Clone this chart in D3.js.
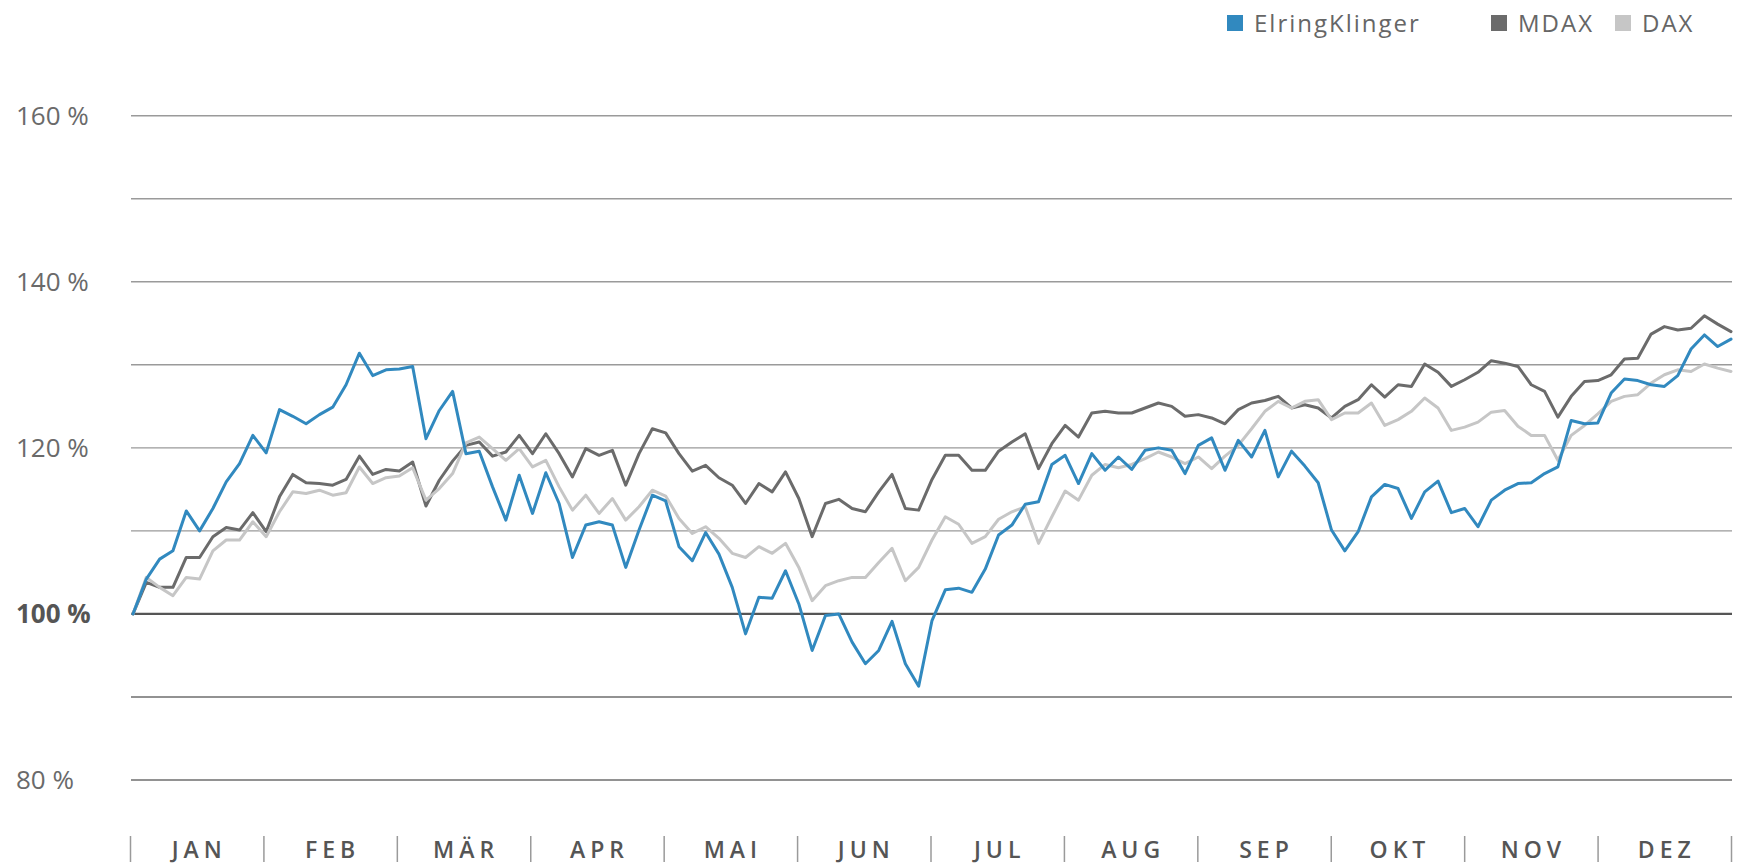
<!DOCTYPE html>
<html lang="de">
<head>
<meta charset="utf-8">
<title>ElringKlinger vs. MDAX vs. DAX</title>
<script src="https://cdn.jsdelivr.net/npm/d3@7"></script>
<style>
  html, body { margin: 0; padding: 0; background: #fff; }
  svg { display: block; font-family: "Open Sans", "Noto Sans", sans-serif; }
  .ylab { font-size: 26px; fill: #6a6a6a; }
  .ylab.base { font-weight: 700; fill: #555; }
  .month { font-size: 23px; font-weight: 600; fill: #555; letter-spacing: 5px; }
  .legend text { font-size: 24px; fill: #666; letter-spacing: 2px; }
  .series { fill: none; stroke-width: 3; stroke-linejoin: round; stroke-linecap: round; }
</style>
</head>
<body>
<div id="chart"></div>
<script>
const months = ['JAN', 'FEB', 'MÄR', 'APR', 'MAI', 'JUN', 'JUL', 'AUG', 'SEP', 'OKT', 'NOV', 'DEZ'];
const gridValues = [80, 90, 100, 110, 120, 130, 140, 150, 160];
const labelValues = [80, 100, 120, 140, 160];

// index performance in %, start = 100, about every second trading day
const elring = [
  100.0, 104.2, 106.6, 107.6, 112.4, 110.0, 112.7, 115.9, 118.1, 121.5,
  119.4, 124.6, 123.8, 122.9, 124.0, 124.9, 127.6, 131.4, 128.7, 129.4,
  129.5, 129.8, 121.1, 124.5, 126.8, 119.3, 119.6, 115.3, 111.3, 116.7,
  112.1, 117.0, 113.3, 106.8, 110.7, 111.1, 110.7, 105.6, 110.1, 114.3,
  113.6, 108.1, 106.4, 109.8, 107.2, 103.2, 97.6, 102.0, 101.9, 105.2,
  101.2, 95.6, 99.8, 100.0, 96.6, 94.0, 95.6, 99.1, 94.0, 91.3,
  99.2, 102.9, 103.1, 102.6, 105.4, 109.5, 110.7, 113.2, 113.5, 118.0,
  119.1, 115.7, 119.3, 117.3, 118.9, 117.4, 119.7, 120.0, 119.7, 116.9,
  120.3, 121.2, 117.3, 120.9, 118.9, 122.1, 116.5, 119.6, 117.8, 115.8,
  110.1, 107.6, 109.9, 114.1, 115.6, 115.1, 111.5, 114.7, 116.0, 112.2,
  112.7, 110.5, 113.7, 114.9, 115.7, 115.8, 116.9, 117.7, 123.3, 122.9,
  123.0, 126.6, 128.3, 128.1, 127.6, 127.4, 128.7, 131.9, 133.6, 132.2,
  133.1
];
const mdax = [
  100.0, 103.8, 103.2, 103.2, 106.8, 106.8, 109.3, 110.4, 110.1, 112.2,
  109.9, 114.1, 116.8, 115.8, 115.7, 115.5, 116.2, 119.0, 116.8, 117.4,
  117.2, 118.3, 113.0, 116.1, 118.4, 120.3, 120.7, 119.0, 119.5, 121.5,
  119.3, 121.7, 119.3, 116.5, 119.9, 119.1, 119.7, 115.5, 119.3, 122.3,
  121.8, 119.3, 117.2, 117.9, 116.4, 115.5, 113.3, 115.7, 114.7, 117.1,
  113.9, 109.3, 113.3, 113.8, 112.7, 112.3, 114.7, 116.8, 112.7, 112.5,
  116.2, 119.1, 119.1, 117.3, 117.3, 119.6, 120.7, 121.7, 117.5, 120.5,
  122.7, 121.3, 124.2, 124.4, 124.2, 124.2, 124.8, 125.4, 125.0, 123.8,
  124.0, 123.6, 122.9, 124.6, 125.4, 125.7, 126.2, 124.8, 125.2, 124.8,
  123.6, 125.0, 125.8, 127.6, 126.1, 127.6, 127.4, 130.1, 129.1, 127.4,
  128.2, 129.1, 130.5, 130.2, 129.8, 127.6, 126.8, 123.7, 126.2, 128.0,
  128.1, 128.8, 130.7, 130.8, 133.7, 134.6, 134.2, 134.4, 135.9, 134.9,
  134.0
];
const dax = [
  100.0, 104.4, 103.2, 102.2, 104.4, 104.2, 107.6, 108.9, 108.9, 111.1,
  109.3, 112.3, 114.7, 114.5, 114.9, 114.3, 114.6, 117.7, 115.7, 116.4,
  116.6, 117.6, 113.7, 115.1, 116.9, 120.6, 121.3, 119.9, 118.5, 119.9,
  117.7, 118.5, 115.3, 112.5, 114.3, 112.1, 113.9, 111.3, 112.9, 114.9,
  114.2, 111.5, 109.7, 110.5, 109.1, 107.3, 106.8, 108.1, 107.3, 108.5,
  105.6, 101.6, 103.4, 104.0, 104.4, 104.4, 106.2, 107.9, 104.0, 105.6,
  108.9, 111.7, 110.8, 108.5, 109.3, 111.4, 112.3, 112.9, 108.5, 111.7,
  114.8, 113.7, 116.7, 118.0, 117.6, 118.0, 118.7, 119.5, 118.9, 118.1,
  118.9, 117.5, 119.0, 120.3, 122.3, 124.4, 125.6, 124.8, 125.6, 125.8,
  123.4, 124.2, 124.2, 125.4, 122.7, 123.4, 124.4, 126.0, 124.8, 122.1,
  122.5, 123.1, 124.3, 124.5, 122.6, 121.5, 121.5, 118.5, 121.5, 122.7,
  124.1, 125.6, 126.2, 126.4, 127.8, 128.8, 129.4, 129.2, 130.1, 129.6,
  129.2
];

const series = [
  { name: 'ElringKlinger', color: '#3189bf', values: elring },
  { name: 'MDAX', color: '#6b6b6b', values: mdax },
  { name: 'DAX', color: '#c6c6c6', values: dax }
];

const width = 1744;
const height = 864;
const left = 130;
const right = 1732;

const svg = d3.select('#chart').append('svg')
  .attr('width', width)
  .attr('height', height);

const y = d3.scaleLinear().domain([80, 160]).range([780, 115.7]);
const xMonth = d3.scaleLinear().domain([0, 12]).range([left, right - 1]);
const xDay = d3.scaleLinear().domain([0, elring.length - 1]).range([133, right - 1]);

// grid
svg.append('g')
  .selectAll('line')
  .data(gridValues)
  .join('line')
  .attr('x1', left + 1)
  .attr('x2', right)
  .attr('y1', (d) => y(d))
  .attr('y2', (d) => y(d))
  .attr('stroke', (d) => d === 100 ? '#555' : (d < 100 ? '#6e6e6e' : '#9a9a9a'))
  .attr('stroke-width', (d) => d === 100 ? 2.2 : 1.4);

// y labels
svg.append('g')
  .selectAll('text')
  .data(labelValues)
  .join('text')
  .attr('class', (d) => d === 100 ? 'ylab base' : 'ylab')
  .attr('x', 16)
  .attr('y', (d) => y(d) + 9.3)
  .text((d) => `${d} %`);

// month ticks
const xAxis = d3.axisBottom(xMonth)
  .tickValues(d3.range(0, 13))
  .tickSize(26)
  .tickFormat('');
const axisG = svg.append('g')
  .attr('transform', 'translate(0,836)')
  .call(xAxis);
axisG.select('.domain').remove();
axisG.selectAll('.tick line').attr('stroke', '#9a9a9a').attr('stroke-width', 1.5);

svg.append('g')
  .selectAll('text')
  .data(months)
  .join('text')
  .attr('class', 'month')
  .attr('text-anchor', 'middle')
  .attr('x', (d, i) => xMonth(i + 0.5) + 2.5)
  .attr('y', 858)
  .text((d) => d);

// lines
const line = d3.line()
  .x((d, i) => xDay(i))
  .y((d) => y(d));

svg.append('g')
  .selectAll('path')
  .data([series[1], series[2], series[0]])
  .join('path')
  .attr('class', 'series')
  .attr('stroke', (d) => d.color)
  .attr('d', (d) => line(d.values));

// legend
const legendX = [1227, 1491, 1615];
const legend = svg.append('g').attr('class', 'legend');
const item = legend.selectAll('g')
  .data(series)
  .join('g')
  .attr('transform', (d, i) => `translate(${legendX[i]},15)`);
item.append('rect')
  .attr('width', 16)
  .attr('height', 16)
  .attr('fill', (d) => d.color);
item.append('text')
  .attr('x', 27)
  .attr('y', 16.5)
  .text((d) => d.name);
</script>
</body>
</html>
